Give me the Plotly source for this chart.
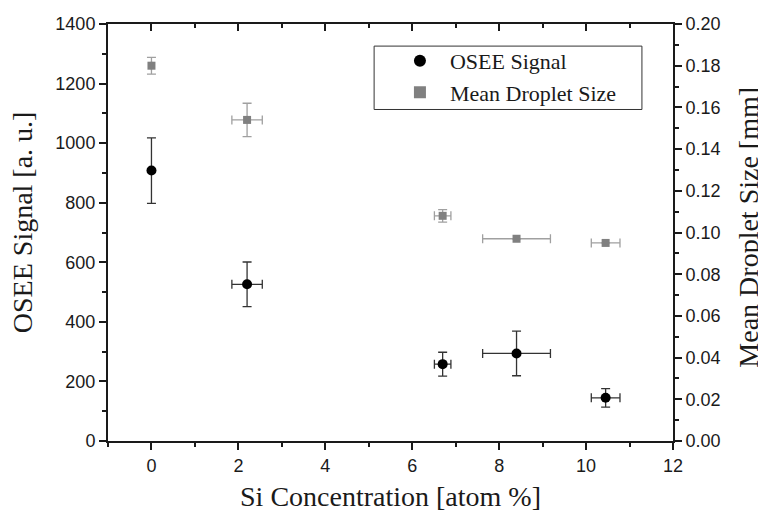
import plotly.graph_objects as go

si_conc = [0.0, 2.2, 6.7, 8.4, 10.45]
si_err = [0.0, 0.35, 0.19, 0.78, 0.33]

osee_signal = [908, 526, 258, 294, 145]
osee_err = [110, 75, 40, 75, 31]

droplet_size = [0.180, 0.154, 0.108, 0.097, 0.095]
droplet_err = [0.004, 0.008, 0.003, 0.0, 0.0]

tick_font = dict(family="Liberation Sans, Arial, sans-serif", size=18, color="#1a1a1a")
title_font = dict(family="Liberation Serif, Times New Roman, serif", size=28, color="#1a1a1a")

fig = go.Figure()

fig.add_trace(go.Scatter(
    x=si_conc, y=osee_signal, mode="markers", name="OSEE Signal",
    marker=dict(symbol="circle", size=10, color="black"),
    error_y=dict(type="data", array=osee_err, visible=True, color="#333333", thickness=1.3, width=4.5),
    error_x=dict(type="data", array=si_err, visible=True, color="#333333", thickness=1.3, width=4.5),
    xaxis="x", yaxis="y",
))

fig.add_trace(go.Scatter(
    x=si_conc, y=droplet_size, mode="markers", name="Mean Droplet Size",
    marker=dict(symbol="square", size=8, color="#808080"),
    error_y=dict(type="data", array=droplet_err, visible=True, color="#a0a0a0", thickness=1.3, width=4.5),
    error_x=dict(type="data", array=si_err, visible=True, color="#a0a0a0", thickness=1.3, width=4.5),
    xaxis="x", yaxis="y2",
))

# dummy trace to anchor top mirror axis
fig.add_trace(go.Scatter(x=[None], y=[None], xaxis="x2", yaxis="y", showlegend=False, hoverinfo="skip"))

axis_common = dict(showgrid=False, zeroline=False, showline=True, linecolor="#1a1a1a", linewidth=2,
                   tickcolor="#1a1a1a", tickwidth=2, automargin=False)

# legend frame
fig.add_shape(type="rect", xref="paper", yref="paper", x0=0.471, x1=0.945, y0=0.795, y1=0.947,
              line=dict(color="#333333", width=1), fillcolor="white", layer="below")

fig.update_layout(
    width=766, height=520,
    margin=dict(l=100, r=101, t=16, b=87),
    paper_bgcolor="white", plot_bgcolor="white",
    showlegend=True,
    legend=dict(x=0.499, y=0.962, xanchor="left", yanchor="top",
                bgcolor="rgba(0,0,0,0)", borderwidth=0, itemwidth=50,
                font=dict(family="Liberation Serif, Times New Roman, serif", size=22, color="#1a1a1a"),
                itemsizing="constant", tracegroupgap=0),
    xaxis=dict(range=[-1, 12], tickmode="linear", tick0=0, dtick=2, ticks="outside", ticklen=7,
               minor=dict(dtick=1, tick0=0, ticks="outside", ticklen=4, tickcolor="#1a1a1a", tickwidth=2),
               tickfont=tick_font, title=dict(text="Si Concentration [atom %]", font=title_font, standoff=12),
               **axis_common),
    xaxis2=dict(range=[-1, 12], overlaying="x", side="top", anchor="y", tickmode="linear", tick0=0, dtick=2,
                ticks="inside", ticklen=7, showticklabels=False,
                minor=dict(dtick=1, tick0=0, ticks="inside", ticklen=4, tickcolor="#1a1a1a", tickwidth=2),
                **axis_common),
    yaxis=dict(range=[0, 1400], tickmode="linear", tick0=0, dtick=200, ticks="outside", ticklen=7,
               minor=dict(dtick=100, ticks="outside", ticklen=4, tickcolor="#1a1a1a", tickwidth=2),
               tickfont=tick_font, **axis_common),
    yaxis2=dict(range=[0, 0.2], overlaying="y", side="right", anchor="x", tickmode="linear", tick0=0, dtick=0.02,
                tickformat=".2f", ticks="outside", ticklen=7,
                minor=dict(dtick=0.01, ticks="outside", ticklen=4, tickcolor="#1a1a1a", tickwidth=2),
                tickfont=tick_font, **axis_common),
    annotations=[
        dict(text="OSEE Signal [a. u.]", xref="paper", yref="paper", x=-0.152, y=0.525,
             xanchor="center", yanchor="middle", textangle=-90, showarrow=False, font=title_font),
        dict(text="Mean Droplet Size [mm]", xref="paper", yref="paper", x=1.1345, y=0.514,
             xanchor="center", yanchor="middle", textangle=-90, showarrow=False, font=title_font),
    ],
)

fig.write_html("out.html")
